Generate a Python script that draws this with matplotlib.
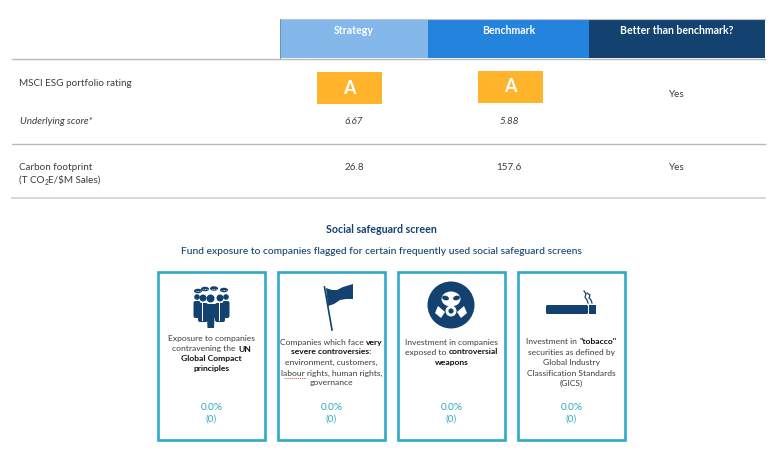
import matplotlib
matplotlib.use('Agg')
import matplotlib.pyplot as plt
from matplotlib.patches import Rectangle, Circle, Ellipse, Polygon, FancyBboxPatch

plt.rcParams['font.family'] = ['Lato', 'DejaVu Sans']

columns = ['Strategy', 'Benchmark', 'Better than benchmark?']
column_colors = ['#85B8EA', '#2483DC', '#134270']
ratings = ['A', 'A']
scores = ['6.67', '5.88']
carbon = ['26.8', '157.6']
better = ['Yes', 'Yes']
card_values = ['0.0%', '0.0%', '0.0%', '0.0%']
card_counts = ['(0)', '(0)', '(0)', '(0)']
# each line is a list of (text, bold) runs
card_text = [
    [[('Exposure to companies', False)],
     [('contravening the ', False), ('UN', True)],
     [('Global Compact', True)],
     [('principles', True)]],
    [[('Companies which face ', False), ('very', True)],
     [('severe controversies:', True)],
     [('environment, customers,', False)],
     [('labour rights, human rights,', False)],
     [('governance', False)]],
    [[('Investment in companies', False)],
     [('exposed to ', False), ('controversial', True)],
     [('weapons', True)]],
    [[('Investment in ', False), ('"tobacco"', True)],
     [('securities as defined by', False)],
     [('Global Industry', False)],
     [('Classification Standards', False)],
     [('(GICS)', False)]],
]

NAVY = '#134270'
GREY = '#3c3c3c'
TEAL = '#2FA9C9'
AMBER = '#FFB42B'
TABLE_SIZE = 7.1

fig = plt.figure(figsize=(7.76, 4.5), dpi=100)
ax = fig.add_axes([0, 0, 1, 1])
ax.set_xlim(0, 776)
ax.set_ylim(450, 0)
ax.axis('off')


def text_width(t):
    r = fig.canvas.get_renderer()
    inv = ax.transData.inverted()
    bb = t.get_window_extent(r)
    return inv.transform((bb.x1, 0))[0] - inv.transform((bb.x0, 0))[0]


def mixed_line(cx, y, runs, size=6.1):
    # centre a line that mixes regular and bold runs
    items = []
    total = 0
    for s, bold in runs:
        t = ax.text(0, y, s.replace(' ', '\u00a0'), fontsize=size, va='center', ha='left',
                    color='#111111' if bold else GREY,
                    fontweight='bold' if bold else 'normal')
        w = text_width(t)
        items.append((t, w))
        total += w
    x = cx - total / 2
    for t, w in items:
        t.set_x(x)
        x += w


# header
edges = [280, 428, 589, 765]
for i, name in enumerate(columns):
    ax.add_patch(Rectangle((edges[i], 19), edges[i + 1] - edges[i], 39, color=column_colors[i], lw=0))
    ax.text((edges[i] + edges[i + 1]) / 2, 30, name, color='white', fontsize=7.6,
            fontweight='bold', ha='center', va='center')
ax.plot([280, 765], [18.5, 18.5], color='#c4c4c4', lw=0.8)
ax.plot([280, 280], [19, 58], color='#6f94b5', lw=0.7)

# table rules
for y, c, w in [(58.5, '#b9b9b9', 1.0), (143.5, '#b9b9b9', 1.0), (198, '#d2d2d2', 1.2)]:
    ax.plot([12, 765], [y, y], color=c, lw=w)

# row labels
ax.text(19, 83, 'MSCI ESG portfolio rating', fontsize=TABLE_SIZE, color=GREY, va='center')
ax.text(20, 121, 'Underlying score*', fontsize=TABLE_SIZE, color=GREY, va='center', style='italic')
ax.text(19, 167.5, 'Carbon footprint', fontsize=TABLE_SIZE, color=GREY, va='center')
t1 = ax.text(19, 180, '(T CO', fontsize=TABLE_SIZE, color=GREY, va='center')
x_sub = 19 + text_width(t1)
t2 = ax.text(x_sub, 182.5, '2', fontsize=4.8, color=GREY, va='center')
ax.text(x_sub + text_width(t2), 180, 'E/\\$M Sales)', fontsize=TABLE_SIZE, color=GREY, va='center')

# rows
col_x = [350, 511]
box_top = [72, 71]
for i in range(2):
    ax.add_patch(Rectangle((col_x[i] - 33, box_top[i]), 65, 32, color=AMBER, lw=0))
    ax.text(col_x[i] - 0.5, box_top[i] + 16, ratings[i], color='white', fontsize=13,
            fontweight='bold', ha='center', va='center')
    ax.text([354, 509][i], 121, scores[i], fontsize=TABLE_SIZE, color=GREY, style='italic', ha='center', va='center')
    ax.text([354, 509][i], 167.5, carbon[i], fontsize=TABLE_SIZE, color=GREY, ha='center', va='center')
ax.text(677, 94.5, better[0], fontsize=TABLE_SIZE, color=GREY, ha='center', va='center')
ax.text(677, 167.5, better[1], fontsize=TABLE_SIZE, color=GREY, ha='center', va='center')

# section titles
ax.text(381.5, 229.5, 'Social safeguard screen', color=NAVY, fontsize=7.7, fontweight='bold', ha='center', va='center')
ax.text(381.5, 251, 'Fund exposure to companies flagged for certain frequently used social safeguard screens',
        color=NAVY, fontsize=7.4, fontweight='medium', ha='center', va='center')

# cards
card_left = [158, 278, 398, 518]
line_y = [[339, 349, 359, 369], [342, 352, 362, 373, 383], [342, 352, 363], [342, 352, 363, 373, 383]]
for i, left in enumerate(card_left):
    ax.add_patch(Rectangle((left, 272), 106.5, 168, fill=False, ec=TEAL, lw=1.9))
    cx = left + 53.5
    for y, runs in zip(line_y[i], card_text[i]):
        mixed_line(cx, y, runs)
    ax.text(cx, 407, card_values[i], color=TEAL, fontsize=7.2, ha='center', va='center')
    ax.text(cx, 419.5, card_counts[i], color=TEAL, fontsize=7.2, ha='center', va='center')

# spell-check squiggle under "labour"
ax.plot([284, 306], [378, 378], color='#d9534f', lw=0.7, ls=(0, (1, 1)))

# people icon
for cx, cy, r, top, bot, hw in [(197, 297, 2.8, 301, 318, 3.5), (226, 297, 2.8, 301, 318, 3.5),
                                (203, 298, 3.5, 303, 322, 5), (220, 298, 3.5, 303, 322, 5)]:
    ax.add_patch(Circle((cx, cy), r, color=NAVY, lw=0))
    ax.add_patch(FancyBboxPatch((cx - hw, top), 2 * hw, bot - top, boxstyle='round,pad=0,rounding_size=2', color=NAVY, lw=0))
ax.add_patch(Circle((210.5, 298.5), 4, color=NAVY, lw=0, zorder=4))
ax.add_patch(Polygon([(203, 304), (218, 304), (218, 318), (214.5, 318), (214, 328), (207.5, 328), (207, 318), (203, 318)],
                     color=NAVY, lw=0, zorder=4))
ax.add_patch(Rectangle((201.5, 303), 1.2, 18, color='white', lw=0, zorder=3))
ax.add_patch(Rectangle((218.5, 303), 1.2, 18, color='white', lw=0, zorder=3))
for cx, cy in [(198, 291), (205, 289), (214, 288.5), (224, 290)]:
    ax.add_patch(Ellipse((cx, cy), 8, 4.5, color=NAVY, lw=0, zorder=5))
    ax.plot([cx - 2, cx + 2], [cy, cy], color='white', lw=0.6, ls=(0, (1, 1)), zorder=6)

# flag icon
ax.plot([324.5, 332], [287, 330], color=NAVY, lw=1.2)
ax.add_patch(Polygon([(326, 288), (332, 290), (337, 290), (343, 287), (353, 284), (353, 299),
                      (346, 299), (340, 300), (334, 304), (328, 306)], color=NAVY, lw=0))

# gas mask icon
ax.add_patch(Circle((451, 305), 23.5, color=NAVY, lw=0))
ax.add_patch(Ellipse((451, 299), 19, 15, color='white', lw=0))
ax.add_patch(Ellipse((445.5, 298), 7, 4.5, color=NAVY, lw=0, angle=15))
ax.add_patch(Ellipse((456.5, 298), 7, 4.5, color=NAVY, lw=0, angle=-15))
ax.add_patch(Circle((451, 311), 5.5, color='white', lw=0, zorder=3))
ax.add_patch(Circle((451, 311), 2.6, color=NAVY, lw=0, zorder=4))
ax.add_patch(Polygon([(438, 306), (445, 312), (441, 318), (435, 313)], color='white', lw=0))
ax.add_patch(Polygon([(464, 306), (457, 312), (461, 318), (467, 313)], color='white', lw=0))

# cigarette icon
ax.add_patch(FancyBboxPatch((546, 305), 42, 9, boxstyle='round,pad=0,rounding_size=1.5', color=NAVY, lw=0))
ax.add_patch(Rectangle((589, 305), 7, 9, color=NAVY, lw=0))
ax.plot([584, 586, 585, 587, 588], [291, 294, 297, 300, 303], color=NAVY, lw=0.9)
ax.plot([587, 590, 589, 591, 592], [293, 295, 298, 300, 303], color=NAVY, lw=0.9)

fig.savefig('out.png', dpi=100)
